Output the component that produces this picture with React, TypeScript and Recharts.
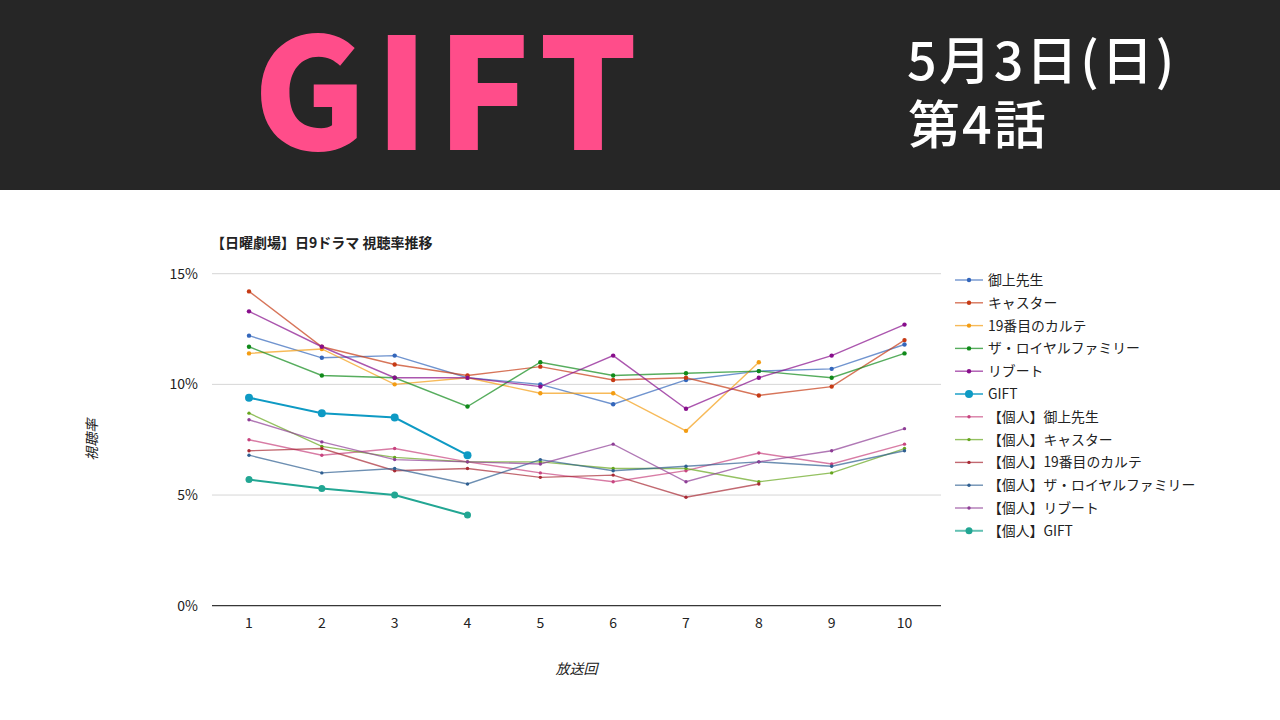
import React from "react";
import { LineChart, Line, XAxis, YAxis, CartesianGrid, Legend, Label } from "recharts";

const episodes = ["1", "2", "3", "4", "5", "6", "7", "8", "9", "10"];
const yTicks = [0, 5, 10, 15];
const FONT = "'Noto Sans CJK JP', 'Noto Sans', sans-serif";

const mikami = [12.2, 11.2, 11.3, 10.3, 10.0, 9.1, 10.2, 10.6, 10.7, 11.8];
const caster = [14.2, 11.7, 10.9, 10.4, 10.8, 10.2, 10.3, 9.5, 9.9, 12.0];
const karte = [11.4, 11.6, 10.0, 10.3, 9.6, 9.6, 7.9, 11.0];
const royal = [11.7, 10.4, 10.3, 9.0, 11.0, 10.4, 10.5, 10.6, 10.3, 11.4];
const reboot = [13.3, 11.7, 10.3, 10.3, 9.9, 11.3, 8.9, 10.3, 11.3, 12.7];
const gift = [9.4, 8.7, 8.5, 6.8];
const pMikami = [7.5, 6.8, 7.1, 6.5, 6.0, 5.6, 6.1, 6.9, 6.4, 7.3];
const pCaster = [8.7, 7.2, 6.7, 6.5, 6.5, 6.2, 6.2, 5.6, 6.0, 7.1];
const pKarte = [7.0, 7.1, 6.1, 6.2, 5.8, 5.9, 4.9, 5.5];
const pRoyal = [6.8, 6.0, 6.2, 5.5, 6.6, 6.1, 6.3, 6.5, 6.3, 7.0];
const pReboot = [8.4, 7.4, 6.6, 6.5, 6.4, 7.3, 5.6, 6.5, 7.0, 8.0];
const pGift = [5.7, 5.3, 5.0, 4.1];

const series = [
  { name: "御上先生", values: mikami, color: "#3366bb", r: 2.2, w: 1.4 },
  { name: "キャスター", values: caster, color: "#c63a14", r: 2.2, w: 1.4 },
  { name: "19番目のカルテ", values: karte, color: "#f39c12", r: 2.2, w: 1.4 },
  { name: "ザ・ロイヤルファミリー", values: royal, color: "#108a1a", r: 2.2, w: 1.4 },
  { name: "リブート", values: reboot, color: "#880e8c", r: 2.2, w: 1.4 },
  { name: "GIFT", values: gift, color: "#0e9ac4", r: 4, w: 2 },
  { name: "【個人】御上先生", values: pMikami, color: "#c8447f", r: 1.7, w: 1.4 },
  { name: "【個人】キャスター", values: pCaster, color: "#66a61e", r: 1.7, w: 1.4 },
  { name: "【個人】19番目のカルテ", values: pKarte, color: "#a82a35", r: 1.7, w: 1.4 },
  { name: "【個人】ザ・ロイヤルファミリー", values: pRoyal, color: "#2f5f91", r: 1.7, w: 1.4 },
  { name: "【個人】リブート", values: pReboot, color: "#8e3e96", r: 1.7, w: 1.4 },
  { name: "【個人】GIFT", values: pGift, color: "#22a693", r: 3.5, w: 2 },
];

const rows = episodes.map((ep, i) => {
  const row: Record<string, string | number | undefined> = { ep };
  series.forEach((s) => {
    row[s.name] = s.values[i];
  });
  return row;
});

const legendContent = () => (
  <svg width={270} height={285} style={{ display: "block" }}>
    {series.map((s, i) => {
      const y = 14 + i * 22.8;
      return (
        <g key={s.name}>
          <line x1={1} x2={29} y1={y} y2={y} stroke={s.color} strokeWidth={s.w === 2 ? 2 : 1.4} strokeOpacity={0.7} />
          <circle cx={15} cy={y} r={s.r} fill={s.color} />
          <text x={34} y={y + 5} fontSize={13.85} fill="#222" fontFamily={FONT}>
            {s.name}
          </text>
        </g>
      );
    })}
  </svg>
);

export default function App() {
  return (
    <div style={{ position: "absolute", left: 0, top: 0, width: 1280, height: 720, background: "#fff", overflow: "hidden", fontFamily: FONT }}>
      <div style={{ position: "absolute", left: 0, top: 0, width: 1280, height: 190, background: "#262626" }} />
      <div style={{ position: "absolute", left: 253, top: 3, fontSize: 155, lineHeight: "160px", fontWeight: 900, color: "#ff4d8a", letterSpacing: 8, fontFamily: FONT, whiteSpace: "nowrap" }}>
        GIFT
      </div>
      <div style={{ position: "absolute", left: 907, top: 27, fontSize: 52, lineHeight: "62px", fontWeight: 500, color: "#fff", letterSpacing: 2.5, whiteSpace: "nowrap" }}>
        5月3日(日)
      </div>
      <div style={{ position: "absolute", left: 908, top: 91, fontSize: 52, lineHeight: "62px", fontWeight: 500, color: "#fff", letterSpacing: 2, whiteSpace: "nowrap" }}>
        第4話
      </div>
      <div style={{ position: "absolute", left: 211, top: 232, fontSize: 14, lineHeight: "20px", fontWeight: 700, color: "#222", whiteSpace: "nowrap" }}>
        【日曜劇場】日9ドラマ 視聴率推移
      </div>
      <div style={{ position: "absolute", left: 0, top: 190 }}>
        <LineChart width={1280} height={530} data={rows} margin={{ top: 83.7, right: 69, bottom: 0, left: 0 }}>
          <CartesianGrid horizontal vertical={false} stroke="#d6d6d6" />
          <XAxis
            dataKey="ep"
            height={114.3}
            padding={{ left: 37, right: 36.5 }}
            axisLine={{ stroke: "#111" }}
            tickLine={false}
            tick={{ fontSize: 14, fill: "#222", fontFamily: FONT }}
            tickMargin={6}
            interval={0}
          >
            <Label value="放送回" position="insideBottom" offset={46} fontSize={14} fontStyle="italic" fill="#222" fontFamily={FONT} />
          </XAxis>
          <YAxis
            width={212}
            domain={[0, 15]}
            ticks={yTicks}
            tickFormatter={(v: number) => `${v}%`}
            axisLine={false}
            tickLine={false}
            tick={{ fontSize: 14, fill: "#222", fontFamily: FONT }}
            tickMargin={8}
          >
            <Label value="視聴率" angle={-90} position="insideLeft" offset={92} dy={21} fontSize={14} fontStyle="italic" fill="#222" fontFamily={FONT} />
          </YAxis>
          <Legend layout="vertical" align="right" verticalAlign="top" content={legendContent} wrapperStyle={{ left: 954, top: 76, width: 270 }} />
          {series.map((s) => (
            <Line
              key={s.name}
              dataKey={s.name}
              stroke={s.color}
              strokeWidth={s.w}
              strokeOpacity={s.w === 2 ? 1 : 0.7}
              dot={{ r: s.r, fill: s.color, stroke: s.color, strokeWidth: 0, fillOpacity: 1 }}
              isAnimationActive={false}
              connectNulls={false}
            />
          ))}
        </LineChart>
      </div>
    </div>
  );
}
